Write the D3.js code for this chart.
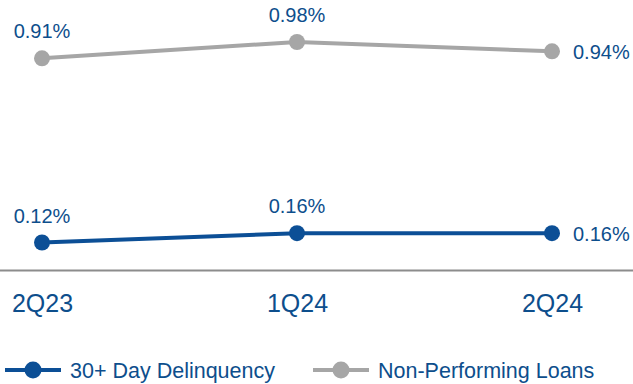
<!DOCTYPE html>
<html>
<head>
<meta charset="utf-8">
<script src="https://cdn.jsdelivr.net/npm/d3@7"></script>
<style>
  html, body { margin: 0; padding: 0; background: #fff; }
  svg { display: block; font-family: Arial, "Liberation Sans", sans-serif; }
</style>
</head>
<body>
<svg id="chart" width="633" height="384"></svg>
<script>
// Quarterly credit quality metrics (%)
const quarters = ["2Q23", "1Q24", "2Q24"];
const delinquency = [0.12, 0.16, 0.16];
const nonPerforming = [0.91, 0.98, 0.94];
const seriesNames = ["30+ Day Delinquency", "Non-Performing Loans"];

const blue = "#0c4f96";
const grey = "#a6a6a6";
const textColor = "#0d4e8c";

const svg = d3.select("#chart");

const x = d3.scalePoint().domain(quarters).range([42, 552]);
const y = d3.scaleLinear().domain([0, 1.16]).range([270.5, 0]);

// baseline axis with quarter labels
const xAxis = d3.axisBottom(x).tickSize(0).tickPadding(24);
const gx = svg.append("g").attr("transform", `translate(0,${y(0)})`).call(xAxis);
gx.select(".domain").remove();
gx.append("line").attr("x1", 0).attr("x2", 633).attr("y1", 0).attr("y2", 0)
  .attr("stroke", "#8c8c8c").attr("stroke-width", 2);
gx.selectAll(".tick text")
  .attr("font-size", 25).attr("fill", textColor)
  .attr("font-family", "Arial, 'Liberation Sans', sans-serif");

const line = d3.line().x((d, i) => x(quarters[i])).y(d => y(d));

function drawSeries(values, color, labelPos) {
  svg.append("path").datum(values)
    .attr("d", line).attr("fill", "none")
    .attr("stroke", color).attr("stroke-width", 4);
  svg.append("g").selectAll("circle").data(values).join("circle")
    .attr("cx", (d, i) => x(quarters[i])).attr("cy", d => y(d))
    .attr("r", 8).attr("fill", color);
  svg.append("g").selectAll("text").data(values).join("text")
    .attr("x", (d, i) => labelPos[i] === "right" ? x(quarters[i]) + 21 : x(quarters[i]))
    .attr("y", (d, i) => labelPos[i] === "right" ? y(d) + 8 : y(d) - 20)
    .attr("text-anchor", (d, i) => labelPos[i] === "right" ? "start" : "middle")
    .attr("font-size", 20).attr("fill", textColor)
    .text(d => d.toFixed(2) + "%");
}

drawSeries(nonPerforming, grey, ["above", "above", "right"]);
drawSeries(delinquency, blue, ["above", "above", "right"]);

// legend
const legend = svg.append("g").attr("transform", "translate(0,370)");
const legendItems = [
  { name: seriesNames[0], color: blue, x0: 5 },
  { name: seriesNames[1], color: grey, x0: 313 }
];
legendItems.forEach(it => {
  const g = legend.append("g").attr("transform", `translate(${it.x0},0)`);
  g.append("line").attr("x1", 0).attr("x2", 56).attr("stroke", it.color).attr("stroke-width", 4);
  g.append("circle").attr("cx", 28).attr("r", 8.5).attr("fill", it.color);
  g.append("text").attr("x", 65).attr("y", 8).attr("font-size", 21.5)
    .attr("fill", textColor).text(it.name);
});
</script>
</body>
</html>
